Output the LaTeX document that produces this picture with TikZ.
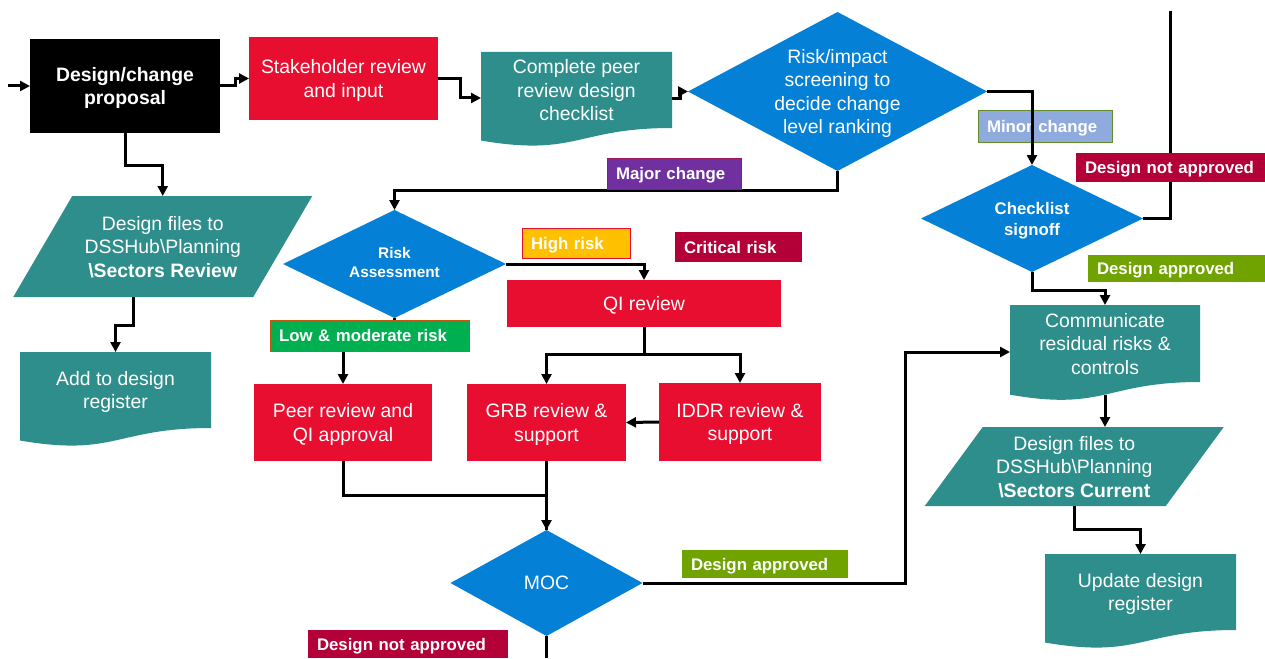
\documentclass[tikz,border=0pt]{standalone}
\usepackage{fontspec}
\setmainfont{Liberation Sans}
\usetikzlibrary{shapes.geometric,arrows.meta,calc}
\pgfdeclarelayer{bg}
\pgfdeclarelayer{paper}
\pgfsetlayers{paper,bg,main}
\definecolor{redc}{RGB}{232,14,48}
\definecolor{tealc}{RGB}{46,142,139}
\definecolor{bluec}{RGB}{4,128,214}
\definecolor{purplec}{RGB}{112,48,160}
\definecolor{lbluec}{RGB}{143,170,220}
\definecolor{olivec}{RGB}{112,163,0}
\definecolor{crimc}{RGB}{179,0,56}
\definecolor{yellowc}{RGB}{255,192,0}
\definecolor{greenc}{RGB}{0,176,80}
\definecolor{orangec}{RGB}{197,90,17}
\definecolor{magc}{RGB}{160,24,90}
\definecolor{olbord}{RGB}{100,140,40}
\newcommand\fmain{\fontsize{19.4}{23.5}\selectfont}
\newcommand\flab{\fontsize{16.8}{20}\selectfont\bfseries}
\newcommand\fchk{\fontsize{16.8}{21}\selectfont\bfseries}
\newcommand\fra{\fontsize{15.4}{19}\selectfont\bfseries}
\newcommand\docfill[2]{%
  \begin{pgfonlayer}{bg}
  \fill[tealc] (#1.north west) -- (#1.north east) -- (#1.south east)
     .. controls (#1.south) and ($(#1.south)+(0,0.381*#2)$) ..
     ($(#1.south west)+(0,0.1646*#2)$) -- cycle;
  \end{pgfonlayer}
  \coordinate (#1-b) at ($(#1.south)+(0,0.1635*#2)$);}
\newcommand\parafill[2]{%
  \begin{pgfonlayer}{bg}
  \fill[tealc] ($(#1.north west)+(#2,0)$) -- ($(#1.north east)+(#2,0)$)
     -- ($(#1.south east)-(#2,0)$) -- ($(#1.south west)-(#2,0)$) -- cycle;
  \end{pgfonlayer}}
\begin{document}
\begin{tikzpicture}[x=1pt,y=-1pt,
  box/.style={rectangle, inner sep=0pt, outer sep=0pt, text=white, align=center, font=\fmain, text depth=-1pt},
  redbox/.style={box, fill=redc},
  dia/.style={diamond, inner sep=0pt, outer sep=0pt, fill=bluec},
  lab/.style={rectangle, inner xsep=9pt, inner ysep=0pt, outer sep=0pt, text=white, font=\flab, align=left, anchor=north west, line width=1pt, text depth=0pt},
  conn/.style={line width=3pt},
  arr/.style={conn, -{Triangle[length=10pt,width=10pt]}}]
\begin{pgfonlayer}{paper}
\fill[white] (0,0) rectangle (1265,658);
\end{pgfonlayer}
\useasboundingbox (0,0) rectangle (1265,658);

% main nodes
\node[box, fill=black, font=\fmain\bfseries, minimum width=190, minimum height=94] (dcp) at (125,86) {Design/change\\proposal};
\node[redbox, minimum width=189, minimum height=83] (skr) at (343.5,78.5) {Stakeholder review\\and input};
\node[box, minimum width=191, minimum height=76] (cpr) at (576.5,90) {Complete peer\\review design\\checklist};
\docfill{cpr}{76}
\node[dia, minimum width=299, minimum height=159] (rid) at (837.5,91.5) {};
\node[box] (rid-t) at (rid.center) {Risk/impact\\screening to\\decide change\\level ranking};
\node[dia, minimum width=222, minimum height=107] (chk) at (1032,218.5) {};
\node[box, font=\fchk] (chk-t) at (chk.center) {Checklist\\signoff};
\node[dia, minimum width=223, minimum height=108] (ra) at (394.5,264) {};
\node[box, font=\fra] (ra-t) at ($(ra.center)+(0,-1.5)$) {Risk\\Assessment};
\node[dia, minimum width=192, minimum height=106] (moc) at (546.5,583) {};
\node[box] (moc-t) at (moc.center) {MOC};
\node[redbox, minimum width=274, minimum height=47] (qi) at (644,303.5) {QI review};
\node[redbox, minimum width=178, minimum height=77] (peer) at (343,422.5) {Peer review and\\QI approval};
\node[redbox, minimum width=159, minimum height=77] (grb) at (546.5,422.5) {GRB review \&\\support};
\node[redbox, minimum width=162, minimum height=78] (iddr) at (740,422) {IDDR review \&\\support};
\node[box, minimum width=240, minimum height=101] (dfr) at (162.75,246.5) {Design files to\\DSSHub\textbackslash Planning\\\textbf{\textbackslash Sectors Review}};
\parafill{dfr}{29.5}
\coordinate (dfr-b) at ($(dfr.south)-(29.5,0)$);
\node[box, minimum width=191, minimum height=76] (adr) at (115.5,390) {Add to design\\register};
\docfill{adr}{76}
\node[box, minimum width=190, minimum height=77] (comm) at (1105,343.5) {Communicate\\residual risks \&\\controls};
\docfill{comm}{77}
\node[box, minimum width=241, minimum height=79] (dfc) at (1074.25,466.5) {Design files to\\DSSHub\textbackslash Planning\\\textbf{\textbackslash Sectors Current}};
\parafill{dfc}{29}
\node[box, minimum width=191, minimum height=76] (udr) at (1140.5,592) {Update design\\register};
\docfill{udr}{76}

\coordinate (in) at (8,86);
\coordinate (nap-top) at (1170,11);
\coordinate (moc-end) at (546.5,658);

% label under a connector
\node[lab, fill=lbluec, draw=olbord, text width=116, minimum height=31] (lmin) at (978,111) {Minor change};

% connectors
\draw[arr] (in) -- (dcp.west);
\draw[arr] (dcp.east) -- ++(15,0) |- (skr.west);
\draw[arr] (skr.east) -- ++(22,0) |- ($(cpr.west)+(0,8)$);
\draw[arr] ($(cpr.east)+(0,9)$) -- ++(8,0) |- (rid.west);
\draw[arr] (rid.south) -- ++(0,19.5) -| (ra.north);
\draw[arr] (rid.east) -| (chk.north);
\draw[conn] (chk.east) -| (nap-top);
\draw[arr] (chk.south) -- ++(0,18) -| (comm.north);
\draw[arr] (comm-b) -- (comm-b |- dfc.north);
\draw[arr] (dfc.south) -- ++(0,23) -| (udr.north);
\draw[arr] (dcp.south) -- ++(0,32) -| (dfr.north);
\draw[arr] (dfr-b) -- ++(0,28) -| (adr.north);
\draw[arr] (ra.east) -| (qi.north);
\draw[arr] (qi.south) -- ++(0,27) -| (grb.north);
\draw[arr] (qi.south) -- ++(0,27) -| (iddr.north);
\draw[arr] (iddr.west) -- (grb.east);
\draw[arr] (ra.south) -- ++(0,17) -| (peer.north);
\draw[conn] (peer.south) -- ++(0,34) -| (moc.north);
\draw[arr] (grb.south) -- (moc.north);
\draw[arr] (moc.east) -- ++(262.5,0) |- ($(comm.west)+(0,8.5)$);
\draw[conn] (moc.south) -- (moc-end);

% labels over connectors
\node[lab, fill=purplec, draw=magc, text width=116, minimum height=31] (lmaj) at (607,158) {Major change};
\node[lab, fill=crimc, text width=171, minimum height=29] (lnap1) at (1076,153) {Design not approved};
\node[lab, fill=olivec, text width=159, minimum height=27] (lap1) at (1088,255) {Design approved};
\node[lab, fill=yellowc, draw=redc, text width=90, minimum height=30] (lhigh) at (522,228) {High risk};
\node[lab, fill=crimc, text width=109, minimum height=30] (lcrit) at (675,232) {Critical risk};
\node[lab, fill=greenc, draw=orangec, text width=181, minimum height=31] (llow) at (270,320) {Low \& moderate risk};
\node[lab, fill=olivec, text width=148, minimum height=28] (lap2) at (682,550) {Design approved};
\node[lab, fill=crimc, text width=182, minimum height=28] (lnap2) at (308,630) {Design not approved};
\end{tikzpicture}
\end{document}
